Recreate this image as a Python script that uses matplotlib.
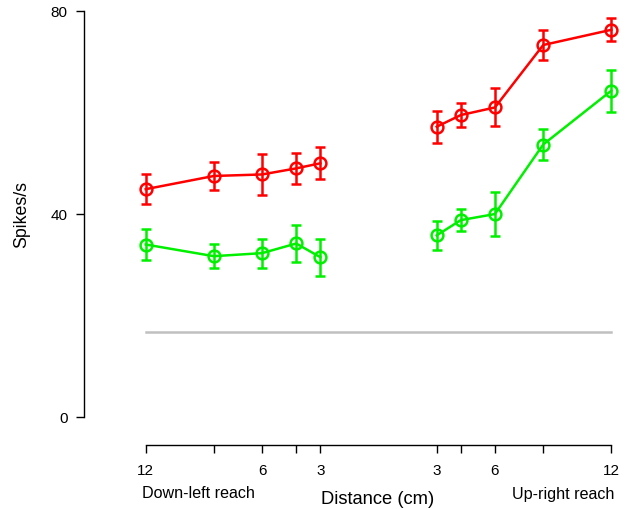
import matplotlib
matplotlib.use('Agg')
import matplotlib.pyplot as plt
import numpy as np

plt.rcParams['font.family'] = ['Liberation Sans', 'DejaVu Sans']

# reach distances (cm) for each direction
left_dist = [12, 8.49, 6, 4.24, 3]
right_dist = [3, 4.24, 6, 8.49, 12]

# firing rates (spikes/s) and error bars
red_left = [44.9, 47.5, 47.8, 49.0, 50.0]
red_left_err = [3.0, 2.75, 3.95, 3.0, 3.15]
green_left = [34.0, 31.7, 32.3, 34.2, 31.5]
green_left_err = [3.1, 2.4, 2.85, 3.6, 3.65]

red_right = [57.2, 59.5, 61.0, 73.3, 76.3]
red_right_err = [3.15, 2.35, 3.75, 2.95, 2.25]
green_right = [35.8, 38.8, 40.0, 53.7, 64.3]
green_right_err = [2.9, 2.15, 4.3, 3.15, 4.15]

baseline = 16.8

tick_pos = [-12, -8.49, -6, -4.24, -3, 3, 4.24, 6, 8.49, 12]
tick_labels = ['12', '', '6', '', '3', '3', '', '6', '', '12']

W, H = 629, 509
fig = plt.figure(figsize=(W / 100, H / 100), dpi=100)
ax = fig.add_axes([84 / W, (H - 445) / H, (620 - 84) / W, (445 - 10) / H])

xl = -np.array(left_dist)
xr = np.array(right_dist)

ax.plot([-12, 12], [baseline, baseline], color='#c0c0c0', lw=1.8, zorder=1)

style = dict(marker='o', markersize=8.5, markerfacecolor='none', markeredgewidth=1.8,
             lw=1.8, elinewidth=1.8, capsize=3.4, capthick=1.8)
ax.errorbar(xl, red_left, yerr=red_left_err, color='#ff0000', **style)
ax.errorbar(xl, green_left, yerr=green_left_err, color='#00f000', **style)
ax.errorbar(xr, red_right, yerr=red_right_err, color='#ff0000', **style)
ax.errorbar(xr, green_right, yerr=green_right_err, color='#00f000', **style)

ax.set_xlim((84 - 378.5) / 19.4, (620 - 378.5) / 19.4)
ax.set_ylim(-5.5, 80.2)

ax.spines['top'].set_visible(False)
ax.spines['right'].set_visible(False)
ax.spines['left'].set_bounds(0, 80)
ax.spines['bottom'].set_bounds(-12, 12)
for s in ['left', 'bottom']:
    ax.spines[s].set_linewidth(1.0)

ax.set_yticks([0, 40, 80])
ax.set_xticks(tick_pos)
ax.set_xticklabels(tick_labels)
ax.tick_params(axis='both', length=5.8, width=1.0, labelsize=11)
ax.tick_params(axis='y', pad=6)
ax.tick_params(axis='x', pad=8)

fig.text(22 / W, 1 - 215 / H, 'Spikes/s', rotation=90, ha='center', va='center', fontsize=12.8)
fig.text(378 / W, 1 - 499 / H, 'Distance (cm)', ha='center', va='center', fontsize=13.2)
fig.text(142 / W, 1 - 494 / H, 'Down-left reach', ha='left', va='center', fontsize=11.6)
fig.text(614 / W, 1 - 494 / H, 'Up-right reach', ha='right', va='center', fontsize=11.6)

fig.savefig('out.png', dpi=100)
